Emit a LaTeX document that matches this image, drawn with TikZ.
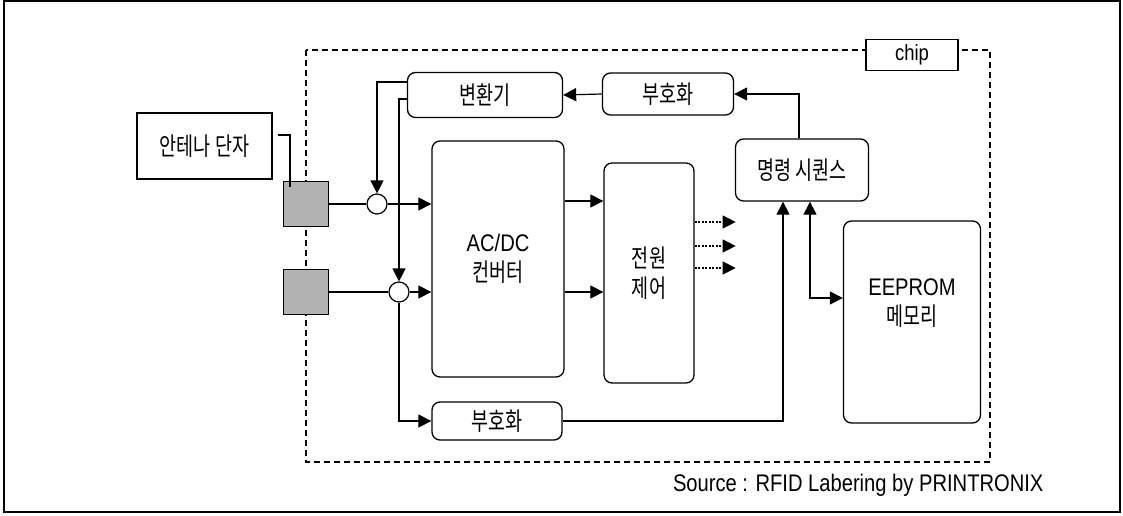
\documentclass[tikz,border=0pt]{standalone}
\usepackage{fontspec}
\setmainfont{Liberation Sans}
\newfontfamily\kr{Noto Sans CJK KR}
\usetikzlibrary{arrows.meta}
\newcommand\kt[1]{\scalebox{0.74}[1]{\kr\fontsize{25}{30}\selectfont #1}}
\newcommand\lt[1]{\scalebox{0.84}[1]{#1}}
\tikzset{
  blk/.style={draw,rounded corners=8pt,line width=1.3pt,align=center,
    font=\fontsize{24}{30}\selectfont},
  pad/.style={draw,fill=gray!60,line width=1.3pt,minimum size=45pt,inner sep=0pt},
  joint/.style={draw,circle,fill=white,line width=1.2pt,minimum size=20pt,inner sep=0pt},
  flow/.style={line width=1.2pt,-{Triangle[length=13pt,width=13pt]}},
  both/.style={line width=1.2pt,{Triangle[length=13pt,width=13pt]}-{Triangle[length=13pt,width=13pt]}},
  wire/.style={line width=1.2pt},
}

\begin{document}
\begin{tikzpicture}[x=1pt,y=-1pt]
  \useasboundingbox (0,0) rectangle (1123,516);
  \draw[line width=1.4pt] (4,1) rectangle (1120,512);
  \draw[line width=1.1pt,dash pattern=on 6pt off 4pt] (306,50) rectangle (990,462);
  \node[draw,fill=white,line width=1.2pt,minimum width=92pt,minimum height=31pt,
    font=\fontsize{22}{26}\selectfont] (chip) at (912,55) {\lt{chip}};
  % antenna pads and joints
  \node[draw,line width=1.2pt,minimum width=135pt,minimum height=66pt] (ant)
    at (204.5,146) {\kt{안테나 단자}};
  \node[pad] (pa) at (306,204) {};
  \node[pad] (pb) at (306,292) {};
  \coordinate (lead) at (278,135);
  \draw[wire] (lead) -| ([xshift=-16pt,yshift=-6pt]pa.north);
  \node[joint] (ja) at (377,204) {};
  \node[joint] (jb) at (399,292) {};
  % blocks
  \node[blk,minimum width=155pt,minimum height=45pt] (conv) at (485,95) {\kt{변환기}};
  \node[blk,minimum width=131pt,minimum height=42pt] (enctop) at (668,94) {\kt{부호화}};
  \node[blk,minimum width=133pt,minimum height=62pt] (cmd) at (802,170) {\kt{명령 시퀀스}};
  \node[blk,minimum width=132pt,minimum height=236pt] (acdc) at (498,259) {\lt{AC/DC}\\\kt{컨버터}};
  \node[blk,minimum width=90pt,minimum height=220pt] (pwr) at (649,273) {\kt{전원}\\\kt{제어}};
  \node[blk,minimum width=137pt,minimum height=202pt] (eep) at (912,322) {\lt{EEPROM}\\\kt{메모리}\\[10pt]};
  \node[blk,minimum width=130pt,minimum height=38pt] (encbot) at (497,421) {\kt{부호화}};
  % connections
  \draw[wire] (pa.east) -- (ja.west);
  \draw[wire] (pb.east) -- (jb.west);
  \draw[flow] (ja.east) -- (ja.east -| acdc.west);
  \draw[flow] (jb.east) -- (jb.east -| acdc.west);
  \draw[flow] ([yshift=13pt]conv.west) -| (ja.north);
  \draw[flow] ([yshift=-4pt]conv.west) -| (jb.north);
  \draw[flow] (enctop.west) -- (conv.east);
  \draw[flow] ([xshift=-3pt]cmd.north) |- (enctop.east);
  \draw[flow] ([yshift=3pt]acdc.east |- ja) -- ([yshift=3pt]pwr.west |- ja);
  \draw[flow] (acdc.east |- jb) -- (pwr.west |- jb);
  \foreach \dy in {51,27,5}
    \draw[flow,dash pattern=on 2pt off 1.5pt] ([yshift=\dy pt]pwr.east) -- ++(41,0);
  \draw[flow] (jb.south) |- (encbot.west);
  \draw[flow] (encbot.east) -| ([xshift=-19pt]cmd.south);
  \draw[both] ([yshift=24pt]eep.west) -| ([xshift=8pt]cmd.south);
  \node[anchor=east,font=\fontsize{24}{28}\selectfont] (src) at (1047,485)
    {\lt{Source : RFID Labering by PRINTRONIX}};
\end{tikzpicture}
\end{document}
